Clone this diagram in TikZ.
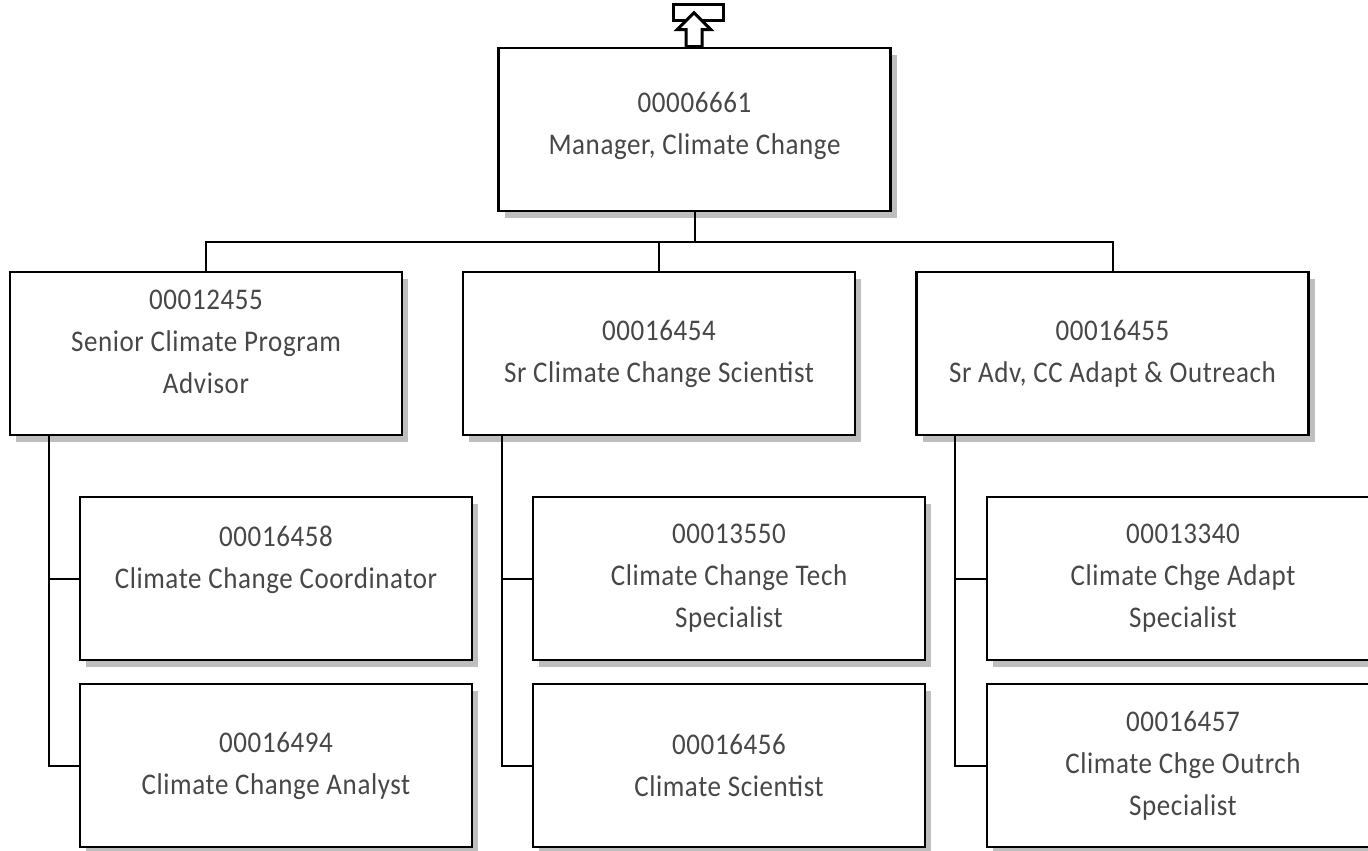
\documentclass[tikz,border=0pt]{standalone}
\usepackage{fontspec}
\setmainfont{Carlito}[FakeStretch=0.9, LetterSpace=2]
\usetikzlibrary{shadows}
\definecolor{shadowgray}{HTML}{BEBEBE}
\definecolor{textgray}{HTML}{474747}
\begin{document}
\begin{tikzpicture}[x=0.5pt, y=-0.5pt,
	post/.style={draw, line width=1.3pt, fill=white, minimum width=196pt, minimum height=81.5pt,
		inner sep=0pt, align=center, text=textgray, font=\fontsize{15}{21}\selectfont,
		drop shadow={shadow xshift=3pt, shadow yshift=-3.5pt, fill=shadowgray, opacity=1}},
	link/.style={line width=1pt},
	icon/.style={draw, line width=1.5pt, fill=white, line join=miter}]
	\useasboundingbox (0,0) rectangle (1368,850);
	
	%manager
	\node[post] (mgr) at (694.5, 129.5) {00006661\\Manager, Climate Change\\[-15pt]\mbox{}};
	
	%second level
	\node[post] (adv) at (206, 353.5) {00012455\\Senior Climate Program\\Advisor\\[-9pt]\mbox{}};
	\node[post] (sci) at (659, 353.5) {00016454\\Sr Climate Change Scientist};
	\node[post] (out) at (1112.5, 353.5) {00016455\\Sr Adv, CC Adapt \& Outreach};
	
	%third level
	\node[post] (coord) at (276, 578.5) {00016458\\Climate Change Coordinator\\\mbox{}};
	\node[post] (anal) at (276, 765.5) {00016494\\Climate Change Analyst};
	\node[post] (tech) at (729, 578.5) {00013550\\Climate Change Tech\\Specialist};
	\node[post] (csci) at (729, 765.5) {00016456\\Climate Scientist};
	\node[post] (adapt) at (1183, 578.5) {00013340\\Climate Chge Adapt\\Specialist};
	\node[post] (outr) at (1183, 765.5) {00016457\\Climate Chge Outrch\\Specialist};
	
	%connectors
	\coordinate (bus) at (694.5, 242);
	\foreach \n in {adv, sci, out}{
		\draw[link] (mgr.south) -- (mgr.south |- bus) -| (\n.north);
	}
	\draw[link] ([xshift=20pt]adv.south west) |- (coord.west);
	\draw[link] ([xshift=20pt]adv.south west) |- (anal.west);
	\draw[link] ([xshift=20pt]sci.south west) |- (tech.west);
	\draw[link] ([xshift=20pt]sci.south west) |- (csci.west);
	\draw[link] ([xshift=20pt]out.south west) |- (adapt.west);
	\draw[link] ([xshift=20pt]out.south west) |- (outr.west);
	
	%up arrow
	\begin{scope}[shift={(mgr.north)}]
		\draw[icon] (-21.5,-42) rectangle (28.5,-26);
		\draw[icon] (-0.5,-34) -- (-17.5,-17) -- (-8.5,-17) -- (-8.5,0) -- (7.5,0) -- (7.5,-17) -- (16.5,-17) -- cycle;
	\end{scope}
\end{tikzpicture}
\end{document}
